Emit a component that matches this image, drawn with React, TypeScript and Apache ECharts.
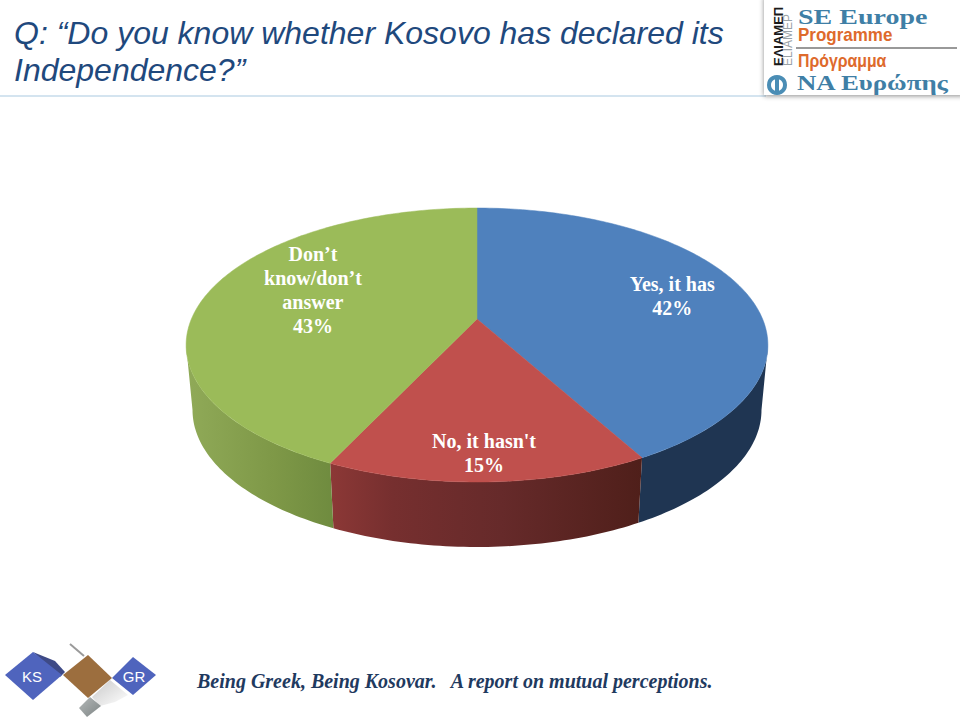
import React, { useEffect, useRef } from "react";
import * as echarts from "echarts";

const categories = ["Yes, it has", "No, it hasn't", "Don’t\nknow/don’t\nanswer"];
const shares = [42, 15, 43];
const topColors = ["#4f81bd", "#c0504d", "#9bbb59"];
const titleText = "Q: “Do you know whether Kosovo has declared its\nIndependence?”";
const footerText = "Being Greek, Being Kosovar.   A report on mutual perceptions.";

// Perspective model of the disc
const CX = 477;
const APEX_Y = 319;
const A_X = 285.6;
const A_Y = 71.5;
const PERSP = 0.1898;
const DEPTH = 65;
const BOTTOM_SCALE = 0.978;
const LABEL_R = [0.73, 0.85, 0.64];
const LABEL_SHIFT = [0, 0.4, 8];

const project = (deg: number, r: number) => {
  const t = (deg * Math.PI) / 180;
  const u = r * Math.sin(t);
  const v = -r * Math.cos(t);
  const d = 1 - PERSP * v;
  return [CX + (A_X * u) / d, (A_Y * v + APEX_Y) / d];
};
const lower = (p: number[]) => [CX + (p[0] - CX) * BOTTOM_SCALE, p[1] + DEPTH];
const SIL_R = (Math.acos(-PERSP) * 180) / Math.PI;
const SIL_L = 360 - SIL_R;

const arc = (a: number, b: number) => {
  const n = Math.max(2, Math.ceil(Math.abs(b - a)));
  const pts: number[][] = [];
  for (let i = 0; i <= n; i++) pts.push(project(a + ((b - a) * i) / n, 1));
  return pts;
};

const sideFills = (): any[] => [
  "#1f3552",
  new echarts.graphic.LinearGradient(0, 0, 1, 0, [
    { offset: 0, color: "#8c3836" },
    { offset: 0.2, color: "#762f2f" },
    { offset: 0.55, color: "#662a2a" },
    { offset: 1, color: "#4f1f1a" },
  ]),
  new echarts.graphic.LinearGradient(0, 0, 1, 0, [
    { offset: 0, color: "#90aa58" },
    { offset: 0.6, color: "#7e9847" },
    { offset: 1, color: "#6f8b3f" },
  ]),
];

function buildSlices() {
  let acc = 0;
  const total = shares.reduce((s, v) => s + v, 0);
  return categories.map((name, i) => {
    const start = (acc / total) * 360;
    acc += shares[i];
    const end = (acc / total) * 360;
    return { name, value: [start, end, shares[i], i] };
  });
}

function diamond(points: number[][], fill: any, z = 1) {
  return { type: "polygon", shape: { points }, style: { fill }, z, silent: true };
}

function graphics(): any[] {
  const serif = "'Liberation Serif', 'DejaVu Serif', serif";
  const sans = "'Liberation Sans', Arial, sans-serif";
  const vGrad = (a: string, b: string) =>
    new echarts.graphic.LinearGradient(0, 0, 1, 1, [
      { offset: 0, color: a },
      { offset: 1, color: b },
    ]);
  return [
    { type: "line", shape: { x1: 0, y1: 96, x2: 766, y2: 96 }, style: { stroke: "#a9c9e0", lineWidth: 1 } },
    {
      type: "rect",
      shape: { x: 764, y: -4, width: 200, height: 99 },
      style: { fill: "#ffffff", shadowBlur: 5, shadowColor: "rgba(0,0,0,0.45)", shadowOffsetX: 0, shadowOffsetY: 1 },
    },
    { type: "text", x: 785, y: 66, rotation: Math.PI / 2, style: { text: "ΕΛΙΑΜΕΠ", font: `bold 13px ${sans}`, fill: "#1a1a1a", textVerticalAlign: "bottom" } },
    { type: "text", x: 794, y: 66, rotation: Math.PI / 2, style: { text: "ELIAMEP", font: `12px ${sans}`, fill: "#9aa3a8", textVerticalAlign: "bottom" } },
    { type: "text", x: 798, y: 7, scaleX: 1.4, style: { text: "SE Europe", font: `bold 20px ${serif}`, fill: "#3f7fa6" } },
    { type: "text", x: 798, y: 26, scaleX: 0.944, style: { text: "Programme", font: `bold 18px ${sans}`, fill: "#de6a2c" } },
    { type: "line", shape: { x1: 796, y1: 48, x2: 957, y2: 48 }, style: { stroke: "#999999", lineWidth: 2 } },
    { type: "text", x: 798, y: 52, scaleX: 0.88, style: { text: "Πρόγραμμα", font: `bold 18px ${sans}`, fill: "#de6a2c" } },
    { type: "text", x: 797, y: 71, scaleX: 1.22, style: { text: "ΝΑ Ευρώπης", font: `bold 22px ${serif}`, fill: "#3f7fa6" } },
    { type: "circle", shape: { cx: 777, cy: 85, r: 8 }, style: { fill: "#ffffff", stroke: "#4a8db5", lineWidth: 4 } },
    { type: "rect", shape: { x: 775, y: 78, width: 4, height: 14 }, style: { fill: "#4a8db5" } },

    { type: "line", shape: { x1: 70, y1: 644, x2: 84, y2: 656 }, style: { stroke: "#9a9a9a", lineWidth: 2 } },
    diamond([[92, 697], [110, 680], [128, 695], [115, 702], [100, 706]], vGrad("#c9c9c9", "#ffffff")),
    diamond([[33, 652], [55, 661], [65, 672], [60, 677]], "#3e4a86"),
    diamond([[5, 675], [33, 652], [62, 675], [33, 700]], "#4f64bd", 2),
    diamond([[88, 655], [112, 678], [88, 698], [63, 675]], "#9c6e3e", 2),
    diamond([[112, 678], [133, 657], [156, 675], [133, 695]], "#4f64bd", 3),
    diamond([[79, 708], [90, 697], [101, 706], [87, 717]], vGrad("#b5b9b9", "#7d8484")),
    { type: "text", x: 32, y: 676, z: 5, style: { text: "KS", font: `15px ${sans}`, fill: "#ffffff", align: "center", verticalAlign: "middle" } },
    { type: "text", x: 134, y: 676, z: 5, style: { text: "GR", font: `15px ${sans}`, fill: "#ffffff", align: "center", verticalAlign: "middle" } },
    { type: "text", x: 197, y: 681, style: { text: footerText, font: `italic bold 20px ${serif}`, fill: "#1f3a5f", verticalAlign: "middle" } },
  ];
}

export default function App() {
  const ref = useRef<HTMLDivElement>(null);
  useEffect(() => {
    document.body.style.margin = "0";
    const chart = echarts.init(ref.current!, null, { renderer: "svg" });
    const slices = buildSlices();
    const fills = sideFills();
    chart.setOption({
      animation: false,
      backgroundColor: "#ffffff",
      title: {
        text: titleText,
        left: 14,
        top: 14,
        padding: 0,
        textStyle: {
          fontFamily: "'Liberation Sans', Arial, sans-serif",
          fontStyle: "italic",
          fontWeight: "normal",
          fontSize: 32,
          lineHeight: 37,
          color: "#1f497d",
        },
      },
      graphic: graphics(),
      series: [
        {
          type: "custom",
          name: "sides",
          coordinateSystem: "none",
          silent: true,
          z: 1,
          data: slices,
          renderItem: (_p: any, api: any) => {
            const a = Math.max(api.value(0), SIL_R);
            const b = Math.min(api.value(1), SIL_L);
            if (b <= a) return null;
            const top = arc(a, b);
            const bot = top.map(lower).reverse();
            return {
              type: "polygon",
              shape: { points: [...top, ...bot] },
              style: { fill: fills[api.value(3)] },
            };
          },
        },
        {
          type: "custom",
          name: "tops",
          coordinateSystem: "none",
          silent: true,
          z: 2,
          data: slices,
          renderItem: (_p: any, api: any) => {
            const i = api.value(3);
            return {
              type: "polygon",
              shape: { points: [[CX, APEX_Y], ...arc(api.value(0), api.value(1))] },
              style: { fill: topColors[i], stroke: topColors[i], lineWidth: 0.5 },
            };
          },
        },
        {
          type: "custom",
          name: "labels",
          coordinateSystem: "none",
          silent: true,
          z: 3,
          data: slices,
          renderItem: (_p: any, api: any) => {
            const i = api.value(3);
            const p = project((api.value(0) + api.value(1)) / 2 + LABEL_SHIFT[i], LABEL_R[i]);
            return {
              type: "text",
              x: p[0],
              y: p[1],
              style: {
                text: `${categories[i]}\n${api.value(2)}%`,
                font: "bold 20px 'Liberation Serif', serif",
                fill: "#ffffff",
                align: "center",
                verticalAlign: "middle",
                lineHeight: 24,
              },
            };
          },
        },
      ],
    });
    return () => chart.dispose();
  }, []);
  return <div ref={ref} style={{ width: 960, height: 720 }} />;
}
